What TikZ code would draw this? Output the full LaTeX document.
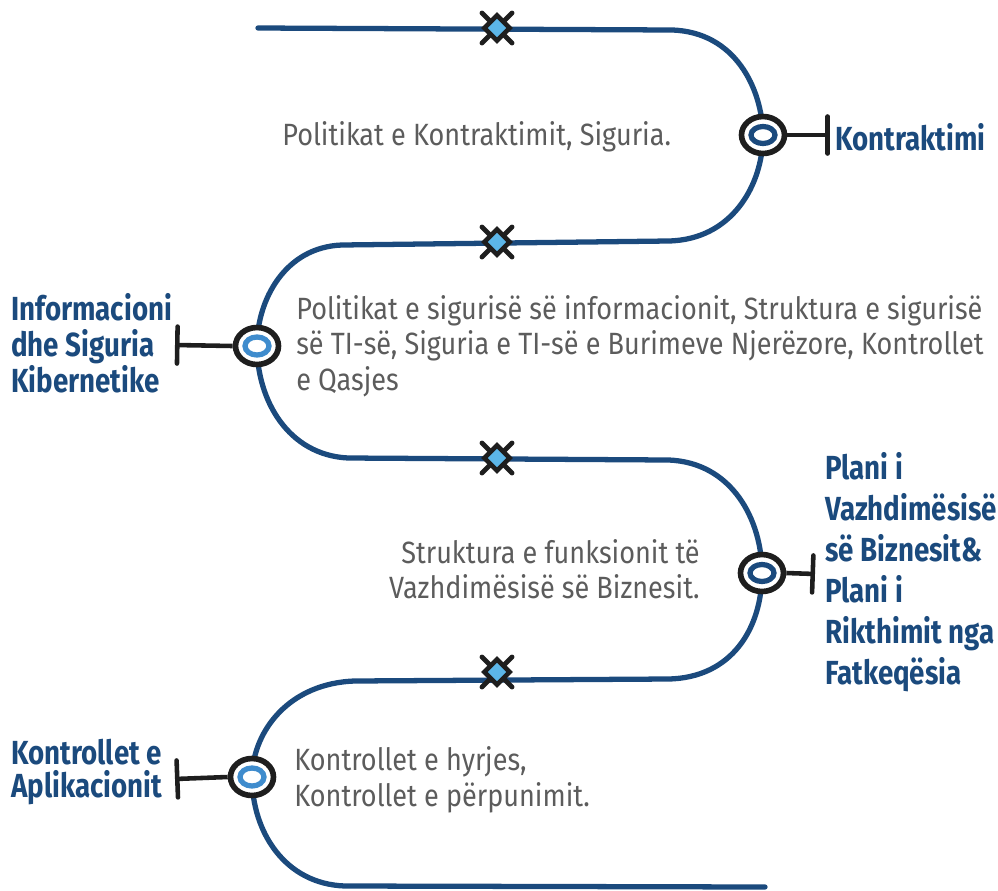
\documentclass[tikz,border=0pt]{standalone}
\usepackage{fontspec}
\setmainfont{Fira Sans}[FakeStretch=0.88]
\newfontfamily\headfont{Fira Sans}[FakeStretch=0.83]
\usetikzlibrary{shapes.geometric,arrows.meta}
\definecolor{navy}{HTML}{1B4A7D}
\definecolor{sky}{HTML}{3F8CCD}
\definecolor{ice}{HTML}{5CB6E8}
\definecolor{ink}{HTML}{1E1E1E}
\definecolor{txt}{HTML}{5C5C5C}
\tikzset{
  road/.style={navy, line width=3pt, line cap=round},
  hub/.style={ellipse, draw=ink, fill=white, line width=3.2pt, inner sep=0pt, minimum width=0.86cm, minimum height=0.74cm},
  core/.style={line width=3pt},
  stem/.style={ink, line width=2.6pt, -{Bar[width=0.74cm, round]}},
  knot/.style={diamond, draw=ink, fill=ice, line width=2.6pt, inner sep=0pt, minimum size=0.54cm},
  xarm/.style={ink, line width=2.8pt, line cap=round},
  head/.style={inner sep=0pt, anchor=west, align=left, text=navy, font=\headfont\bfseries\fontsize{19}{20.5}\selectfont},
  body/.style={inner sep=0pt, text=txt, font=\fontsize{17.5}{20.2}\selectfont},
}
\begin{document}
\begin{tikzpicture}[x=0.02cm, y=-0.02cm]
\useasboundingbox (0,0) rectangle (998,890);
% the winding road
\draw[road] (258,28) -- (672,30) .. controls (735,32) and (762,88) .. (763,135)
  .. controls (763,185) and (732,240) .. (668,241) -- (342,245)
  .. controls (285,247) and (257,300) .. (257,346)
  .. controls (257,400) and (288,455) .. (348,458) -- (668,460)
  .. controls (732,462) and (762,520) .. (762,573)
  .. controls (762,628) and (732,678) .. (668,679) -- (355,681)
  .. controls (290,683) and (253,730) .. (252,777)
  .. controls (252,832) and (285,884) .. (345,886) -- (765,887);

\foreach \y [count=\i] in {28,242,458,672}{
  \draw[xarm] (482,\y-15) -- (512,\y+15) (482,\y+15) -- (512,\y-15);
  \node[knot] (m\i) at (497,\y) {};
}

% stops
\node[hub] (c1) at (763,135) {};
\draw[core, navy] (c1.center) ellipse [x radius=0.24cm, y radius=0.17cm];
\node[hub] (c2) at (257,346) {};
\draw[core, sky] (c2.center) ellipse [x radius=0.24cm, y radius=0.18cm];
\node[hub] (c3) at (762,573) {};
\draw[core, navy] (c3.center) ellipse [x radius=0.24cm, y radius=0.17cm];
\node[hub] (c4) at (252,777) {};
\draw[core, sky] (c4.center) ellipse [x radius=0.24cm, y radius=0.18cm];

\coordinate (t1) at (830,135);
\coordinate (t2) at (175,345);
\coordinate (t3) at (815,574);
\coordinate (t4) at (175,779);
\draw[stem] (c1.east) -- (t1);
\draw[stem] (c2.west) -- (t2);
\draw[stem] (c3.east) -- (t3);
\draw[stem] (c4.west) -- (t4);

\node[head] (l1) at (835,137) {Kontraktimi};
\node[head] (l2) at (11,343) {Informacioni\\dhe Siguria\\Kibernetike};
\node[head, font=\headfont\bfseries\fontsize{19}{23.3}\selectfont] (l3) at (825,572) {Plani i\\Vazhdimësisë\\së Biznesit\&\\Plani i\\Rikthimit nga\\Fatkeqësia};
\node[head, font=\headfont\bfseries\fontsize{19}{19}\selectfont] (l4) at (11,772) {Kontrollet e\\Aplikacionit};

\node[body, anchor=west] (d1) at (282,137) {Politikat e Kontraktimit, Siguria.};
\node[body, anchor=west, align=left] (d2) at (296,346) {Politikat e sigurisë së informacionit, Struktura e sigurisë\\së TI-së, Siguria e TI-së e Burimeve Njerëzore, Kontrollet\\e Qasjes};
\node[body, anchor=east, align=right] (d3) at (700,569) {Struktura e funksionit të\\Vazhdimësisë së Biznesit.};
\node[body, anchor=west, align=left] (d4) at (294,780) {Kontrollet e hyrjes,\\Kontrollet e përpunimit.};
\end{tikzpicture}
\end{document}
